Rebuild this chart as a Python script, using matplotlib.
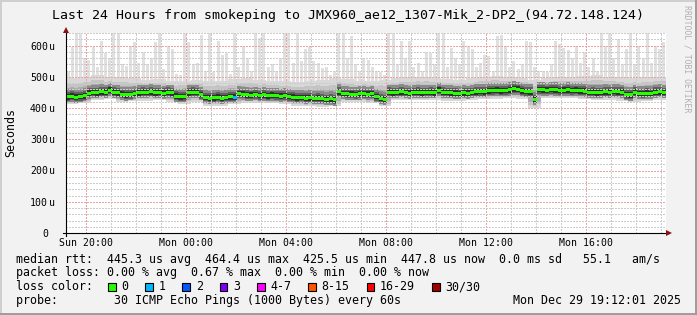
import numpy as np
import matplotlib
matplotlib.use("Agg")
import matplotlib.pyplot as plt
import matplotlib.transforms as mtransforms
from matplotlib.patches import Rectangle

W, H = 697, 315
MONO = "DejaVu Sans Mono"

# time in hours since Sun 00:00, one sample per 10 min (Sun 19:12 -> Mon 19:12)
t_start = 19.2
t_end = 43.2

# median rtt, microseconds, one value per 10 min
median_us = [
    436, 438, 435, 437, 439, 448, 450, 449, 452, 451, 457, 451, 449, 444, 442, 443,
    447, 449, 451, 450, 452, 449, 450, 448, 451, 449, 438, 436, 437, 449, 451, 450,
    443, 434, 432, 433, 435, 432, 434, 436, 435, 446, 444, 442, 441, 443, 440, 442,
    439, 441, 440, 438, 440, 437, 435, 433, 434, 432, 433, 431, 432, 430, 428, 429,
    426, 452, 447, 445, 444, 443, 445, 446, 444, 446, 437, 431, 428, 451, 449, 450,
    452, 450, 448, 450, 451, 449, 450, 451, 449, 457, 451, 450, 449, 448, 447, 449,
    448, 450, 452, 453, 452, 455, 456, 457, 455, 456, 458, 461, 460, 455, 453, 452,
    428, 459, 458, 457, 459, 458, 456, 457, 458, 456, 457, 455, 454, 450, 451, 449,
    450, 452, 451, 453, 452, 451, 443, 442, 451, 447, 446, 448, 447, 451, 452, 450,
]

# slowest ping per 10 min (light gray spikes), microseconds
spike_top_us = [
    520, 595, 660, 640, 560, 555, 595, 530, 615, 575, 560, 660, 660, 540, 535, 600,
    610, 545, 580, 540, 560, 610, 640, 525, 600, 590, 510, 505, 640, 610, 540, 545,
    635, 520, 660, 515, 614, 570, 575, 510, 645, 530, 600, 560, 520, 640, 625, 650,
    530, 540, 520, 560, 660, 660, 545, 660, 550, 590, 595, 550, 545, 528, 530, 505,
    520, 660, 660, 560, 630, 540, 520, 560, 555, 530, 517, 515, 505, 660, 655, 540,
    614, 560, 614, 530, 545, 520, 580, 575, 540, 660, 660, 530, 592, 560, 540, 614,
    600, 590, 530, 545, 570, 565, 520, 630, 635, 600, 530, 549, 525, 540, 614, 610,
    530, 517, 520, 515, 540, 614, 605, 592, 585, 560, 600, 545, 580, 530, 560, 520,
    650, 600, 660, 560, 620, 540, 590, 655, 540, 600, 560, 660, 545, 600, 590, 610,
]

# smoke envelope, one value per 30 min
smoke_hi_us = [
    495, 500, 505, 498, 500, 495, 490, 492, 485, 488, 490, 485, 488, 492, 495, 490,
    488, 485, 482, 486, 490, 495, 492, 488, 485, 490, 495, 498, 500, 496, 492, 490,
    495, 500, 502, 498, 495, 490, 495, 498, 500, 502, 505, 500, 498, 495, 498, 500,
]
smoke_lo_us = [
    412, 415, 425, 428, 420, 422, 424, 425, 418, 414, 420, 408, 408, 412, 416, 416,
    415, 413, 408, 406, 404, 405, 420, 420, 415, 405, 425, 425, 425, 426, 424, 424,
    426, 428, 430, 432, 430, 400, 432, 432, 432, 428, 425, 427, 424, 420, 422, 426,
]

# steps with lost pings
loss_steps = [40]
loss_counts = [1]

tick_hours = [20, 24, 28, 32, 36, 40]
tick_labels = ["Sun 20:00", "Mon 00:00", "Mon 04:00", "Mon 08:00", "Mon 12:00", "Mon 16:00"]
y_ticks = [0, 100, 200, 300, 400, 500, 600]

loss_names = ["0", "1", "2", "3", "4-7", "8-15", "16-29", "30/30"]
loss_colors = ["#26ff00", "#00b8ff", "#0059ff", "#7e00ff", "#ff00ff", "#ff5500", "#ff0000", "#a10000"]

title = "Last 24 Hours from smokeping to JMX960_ae12_1307-Mik_2-DP2_(94.72.148.124)"
row_rtt = "median rtt:  445.3 us avg  464.4 us max  425.5 us min  447.8 us now  0.0 ms sd   55.1   am/s"
row_loss = "packet loss: 0.00 % avg  0.67 % max  0.00 % min  0.00 % now"
row_probe = "probe:        30 ICMP Echo Pings (1000 Bytes) every 60s"
stamp = "Mon Dec 29 19:12:01 2025"

fig = plt.figure(figsize=(W / 100, H / 100), dpi=100, facecolor="#f2f2f2")
ax = fig.add_axes([66 / W, (H - 233) / H, 600 / W, 200.5 / H])
ax.set_facecolor("white")
ax.set_xlim(t_start, t_end)
ax.set_ylim(0, 641.6)
for s in ax.spines.values():
    s.set_visible(False)

n = len(median_us)
dt = (t_end - t_start) / n
t = t_start + np.arange(n + 1) * dt
med = np.array(median_us, float)
top = np.array(spike_top_us, float)
hi = np.repeat(smoke_hi_us, 3).astype(float)
lo = np.repeat(smoke_lo_us, 3).astype(float)


def stepfill(y1, y2, color, z):
    ax.fill_between(t, np.append(y1, y1[-1]), np.append(y2, y2[-1]), step="post",
                    color=color, lw=0, antialiased=False, zorder=z)


# outliers as thin columns
ax.bar(t[:-1] + dt * 0.15, top - med, bottom=med, width=dt * 0.7, align="edge",
       color="#e0e0e0", lw=0, antialiased=False, zorder=1)

# smoke: outer part follows the envelope, inner part hugs the median
outer = [(1.0, 1.0, "#d8d8d8"), (0.7, 0.8, "#c4c4c4"), (0.5, 0.65, "#acacac")]
for k, (fu, fd, col) in enumerate(outer):
    stepfill(med - (med - lo) * fd, med + (hi - med) * fu, col, 1.1 + k * 0.1)
inner = [(18, 24, "#8a8a8a"), (13, 15, "#606060"), (9, 9, "#303030")]
for k, (dd, du, col) in enumerate(inner):
    stepfill(med - dd, med + du, col, 1.5 + k * 0.1)

# grid on top of the smoke
dots = (0, (1, 1))
for h in range(20, 44):
    col = "#eaa4a4" if h % 4 == 0 else "#cccccc"
    ax.axvline(h, color=col, lw=1.0, ls=dots, antialiased=False, zorder=3)
for v in range(20, 641, 20):
    col = "#eaa4a4" if v % 100 == 0 else "#cccccc"
    ax.axhline(v, color=col, lw=1.0, ls=dots, antialiased=False, zorder=3)

# median, colored by loss
stepfill(med - 4.8, med + 4.8, loss_colors[0], 4)
for i, c in zip(loss_steps, loss_counts):
    ax.fill_between(t[i:i + 2], med[i] - 4.8, med[i] + 4.8, color=loss_colors[c],
                    lw=0, antialiased=False, zorder=4.5)

# axes with arrows
ax.plot([t_start - 0.12, t_end + 0.1], [0, 0], color="black", lw=0.8, clip_on=False, zorder=5)
ax.plot([t_start, t_start], [-9, 648], color="black", lw=0.8, clip_on=False, zorder=5)
ax.plot(t_end + 0.12, 0, marker=">", color="#8b1010", ms=4.5, mew=0, clip_on=False, zorder=6)
ax.plot(t_start, 650, marker="^", color="#8b1010", ms=4.5, mew=0, clip_on=False, zorder=6)

ax.set_xticks(tick_hours, tick_labels)
ax.set_yticks(y_ticks, [str(v) for v in y_ticks])
ax.tick_params(axis="x", length=0, pad=3.8, labelsize=7.1)
ax.tick_params(axis="y", length=0, pad=13, labelsize=7.1)
for lab in ax.get_xticklabels() + ax.get_yticklabels():
    lab.set_family(MONO)
tr = mtransforms.blended_transform_factory(fig.transFigure, ax.transData)
for v in y_ticks[1:]:
    ax.text(49.3 / W, v, "u", transform=tr, family=MONO, fontsize=7.1,
            ha="left", va="center_baseline")


def ptext(x, y, s, **kw):
    kw.setdefault("family", MONO)
    fig.text(x / W, 1 - y / H, s, **kw)


ptext(W / 2, 18.5, title, fontsize=9.5, ha="center", va="baseline")
ptext(10.8, 132.5, "Seconds", fontsize=8.4, rotation=90, ha="center", va="center")
ptext(687, 59, "RRDTOOL / TOBI OETIKER", fontsize=5.9, rotation=270, color="#b0b0b0",
      ha="center", va="center")

ptext(16, 262.5, row_rtt, fontsize=8.4, va="baseline")
ptext(16, 276.4, row_loss, fontsize=8.4, va="baseline")
ptext(16, 290.3, "loss color:", fontsize=8.4, va="baseline")
ptext(16, 304.2, row_probe, fontsize=8.4, va="baseline")
ptext(681, 304.2, stamp, fontsize=8.4, va="baseline", ha="right")

bx = 108.0
for name, col in zip(loss_names, loss_colors):
    fig.add_artist(Rectangle((bx / W, 1 - 291 / H), 7.7 / W, 7.7 / H, transform=fig.transFigure,
                             facecolor=col, edgecolor="black", lw=0.8))
    ptext(bx + 13.5, 290.3, name, fontsize=8.4, va="baseline")
    bx += 14 + 7.03 * len(name) + 16.2

# 3d frame
fig.add_artist(Rectangle((0, 0), 2 / W, 1, transform=fig.transFigure, color="#cfcfcf", lw=0))
fig.add_artist(Rectangle((0, 1 - 2 / H), 1, 2 / H, transform=fig.transFigure, color="#cfcfcf", lw=0))
fig.add_artist(Rectangle((1 - 2 / W, 0), 2 / W, 1, transform=fig.transFigure, color="#9e9e9e", lw=0))
fig.add_artist(Rectangle((0, 0), 1, 2 / H, transform=fig.transFigure, color="#9e9e9e", lw=0))

fig.savefig("out.png", dpi=100, facecolor=fig.get_facecolor())
